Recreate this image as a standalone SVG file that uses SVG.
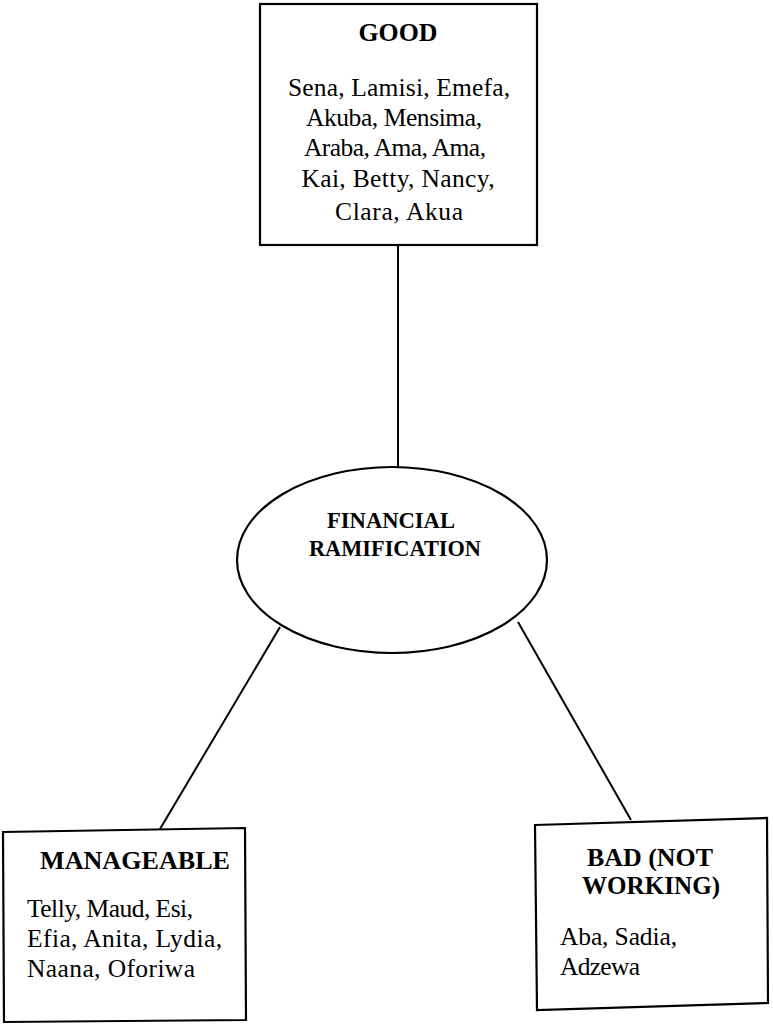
<svg xmlns="http://www.w3.org/2000/svg" width="773" height="1032" viewBox="0 0 773 1032">
<style>
.box{fill:#fff;stroke:#000;stroke-width:2.2}
.con{stroke:#000;stroke-width:2;fill:none}
.h{font-family:"Liberation Serif","Times New Roman",serif;font-weight:bold;font-size:26px;fill:#000;text-anchor:middle}
.e{font-family:"Liberation Serif","Times New Roman",serif;font-weight:bold;font-size:23px;fill:#000;text-anchor:middle}
.t{font-family:"Liberation Serif","Times New Roman",serif;font-size:25.5px;fill:#000}
.c{text-anchor:middle}
</style>
<rect width="773" height="1032" fill="#fff"/>
<g id="connectors">
<line class="con" x1="398" y1="245" x2="398" y2="467"/>
<line class="con" x1="280" y1="627" x2="160" y2="829"/>
<line class="con" x1="518" y1="622" x2="631" y2="820"/>
</g>
<g id="good">
<rect class="box" x="260" y="4" width="277" height="241"/>
<text class="h" x="398" y="41" textLength="79" lengthAdjust="spacingAndGlyphs">GOOD</text>
<text class="t c" x="399" y="96" textLength="222" lengthAdjust="spacing">Sena, Lamisi, Emefa,</text>
<text class="t c" x="394" y="126" textLength="176" lengthAdjust="spacing">Akuba, Mensima,</text>
<text class="t c" x="395" y="156" textLength="182" lengthAdjust="spacing">Araba, Ama, Ama,</text>
<text class="t c" x="398" y="187" textLength="193" lengthAdjust="spacing">Kai, Betty, Nancy,</text>
<text class="t c" x="399" y="220" textLength="128" lengthAdjust="spacing">Clara, Akua</text>
</g>
<g id="financial">
<ellipse class="box" cx="392" cy="560" rx="155" ry="93"/>
<text class="e" x="391" y="528" textLength="128" lengthAdjust="spacingAndGlyphs">FINANCIAL</text>
<text class="e" x="395" y="556" textLength="172" lengthAdjust="spacingAndGlyphs">RAMIFICATION</text>
</g>
<g id="manageable">
<polygon class="box" points="3,832 245,828 246,1020 4,1022"/>
<text class="h" x="135" y="869" textLength="190" lengthAdjust="spacingAndGlyphs">MANAGEABLE</text>
<text class="t" x="27" y="917" textLength="166" lengthAdjust="spacing">Telly, Maud, Esi,</text>
<text class="t" x="27" y="947" textLength="195" lengthAdjust="spacing">Efia, Anita, Lydia,</text>
<text class="t" x="27" y="977" textLength="168" lengthAdjust="spacing">Naana, Oforiwa</text>
</g>
<g id="bad">
<polygon class="box" points="535,825 767,818 768,1003 537,1010"/>
<text class="h" x="650" y="866" textLength="126" lengthAdjust="spacingAndGlyphs">BAD (NOT</text>
<text class="h" x="651" y="894" textLength="138" lengthAdjust="spacingAndGlyphs">WORKING)</text>
<text class="t" x="560" y="945" textLength="117" lengthAdjust="spacing">Aba, Sadia,</text>
<text class="t" x="560" y="975" textLength="80" lengthAdjust="spacing">Adzewa</text>
</g>
</svg>
